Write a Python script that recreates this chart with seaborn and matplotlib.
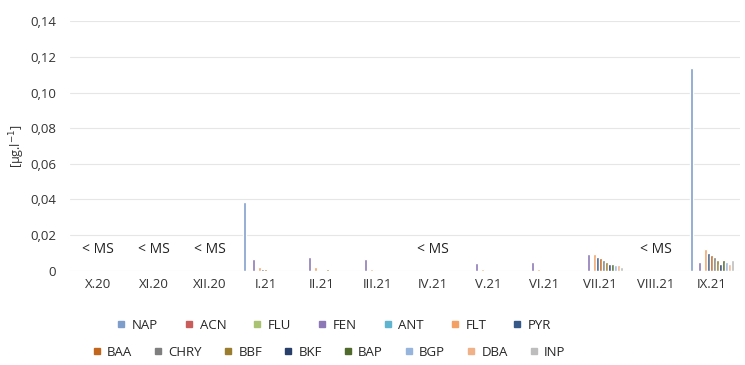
import matplotlib
matplotlib.use("Agg")
import matplotlib.pyplot as plt
from matplotlib.lines import Line2D
import pandas as pd
import seaborn as sns

months = ["X.20", "XI.20", "XII.20", "I.21", "II.21", "III.21",
          "IV.21", "V.21", "VI.21", "VII.21", "VIII.21", "IX.21"]
below_ms = ["X.20", "XI.20", "XII.20", "IV.21", "VIII.21"]

# concentrations [ug/l] per compound, one value per month
NAP = [0, 0, 0, 0.0385, 0, 0, 0, 0, 0, 0, 0, 0.114]
ACN = [0, 0, 0, 0, 0, 0, 0, 0, 0, 0, 0, 0]
FLU = [0, 0, 0, 0, 0, 0, 0, 0, 0, 0, 0, 0]
FEN = [0, 0, 0, 0.0065, 0.008, 0.0065, 0, 0.0045, 0.005, 0.0092, 0, 0.005]
ANT = [0, 0, 0, 0, 0, 0, 0, 0, 0, 0, 0, 0]
FLT = [0, 0, 0, 0.002, 0.002, 0.001, 0, 0.001, 0.001, 0.0095, 0, 0.012]
PYR = [0, 0, 0, 0.001, 0, 0, 0, 0, 0, 0.008, 0, 0.010]
BAA = [0, 0, 0, 0.001, 0, 0, 0, 0, 0, 0.007, 0, 0.009]
CHRY = [0, 0, 0, 0, 0, 0, 0, 0, 0, 0.006, 0, 0.008]
BBF = [0, 0, 0, 0, 0.001, 0, 0, 0, 0, 0.005, 0, 0.006]
BKF = [0, 0, 0, 0, 0, 0, 0, 0, 0, 0.004, 0, 0.004]
BAP = [0, 0, 0, 0, 0, 0, 0, 0, 0, 0.004, 0, 0.006]
BGP = [0, 0, 0, 0, 0, 0, 0, 0, 0, 0.003, 0, 0.005]
DBA = [0, 0, 0, 0, 0, 0, 0, 0, 0, 0.003, 0, 0.004]
INP = [0, 0, 0, 0, 0, 0, 0, 0, 0, 0.002, 0, 0.006]

compounds = ["NAP", "ACN", "FLU", "FEN", "ANT", "FLT", "PYR",
             "BAA", "CHRY", "BBF", "BKF", "BAP", "BGP", "DBA", "INP"]
series = [NAP, ACN, FLU, FEN, ANT, FLT, PYR, BAA, CHRY, BBF, BKF, BAP, BGP, DBA, INP]
colors = ["#7f9dcb", "#c95d5b", "#a9c372", "#8c78b6", "#5fb4d0", "#f3a164",
          "#36598a", "#c2661d", "#7f7f7f", "#9b7d2f", "#283f6c", "#4f6a2c",
          "#97b5dc", "#f1b188", "#bdbdbd"]

rows = []
for name, vals in zip(compounds, series):
    for m, v in zip(months, vals):
        rows.append({"month": m, "compound": name, "value": v})
df = pd.DataFrame(rows)

sns.set_style("white")
plt.rcParams["font.family"] = ["Open Sans", "DejaVu Sans"]

fig = plt.figure(figsize=(7.45, 3.65), dpi=100)
ax = fig.add_axes([0.094, 0.258, 0.899, 0.684])

sns.barplot(data=df, x="month", y="value", hue="compound", order=months,
            hue_order=compounds, palette=colors, width=0.8, legend=False,
            ax=ax, errorbar=None, saturation=1)

ax.set_ylim(0, 0.14)
ax.set_yticks([0, 0.02, 0.04, 0.06, 0.08, 0.10, 0.12, 0.14])
ax.set_yticklabels(["0", "0,02", "0,04", "0,06", "0,08", "0,10", "0,12", "0,14"],
                   fontsize=9.5, color="#333333")
ax.tick_params(axis="x", labelsize=9.5, colors="#333333", length=0, pad=5)
ax.tick_params(axis="y", length=0, pad=10)
ax.set_xlabel("")
ax.set_ylabel("[µg.l$^{-1}$]", fontsize=9, color="#333333", labelpad=2)
ax.grid(axis="y", color="#e6e6e6", linewidth=0.8)
ax.set_axisbelow(True)
for s in ax.spines.values():
    s.set_visible(False)

for m in below_ms:
    ax.text(months.index(m), 0.0118, "< MS", ha="center", va="center",
            fontsize=10, color="#222222")

row1 = [Line2D([], [], marker="s", linestyle="", markersize=4.5,
               color=c, label=n) for n, c in zip(compounds[:7], colors[:7])]
row2 = [Line2D([], [], marker="s", linestyle="", markersize=4.5,
               color=c, label=n) for n, c in zip(compounds[7:], colors[7:])]
fig.legend(handles=row1, ncol=7, loc="center", bbox_to_anchor=(0.447, 0.108),
           frameon=False, fontsize=9.5, handletextpad=0.3, columnspacing=1.85,
           handlelength=1.0)
fig.legend(handles=row2, ncol=8, loc="center", bbox_to_anchor=(0.44, 0.035),
           frameon=False, fontsize=9.5, handletextpad=0.3, columnspacing=1.45,
           handlelength=1.0)

fig.savefig("out.png", dpi=100)
